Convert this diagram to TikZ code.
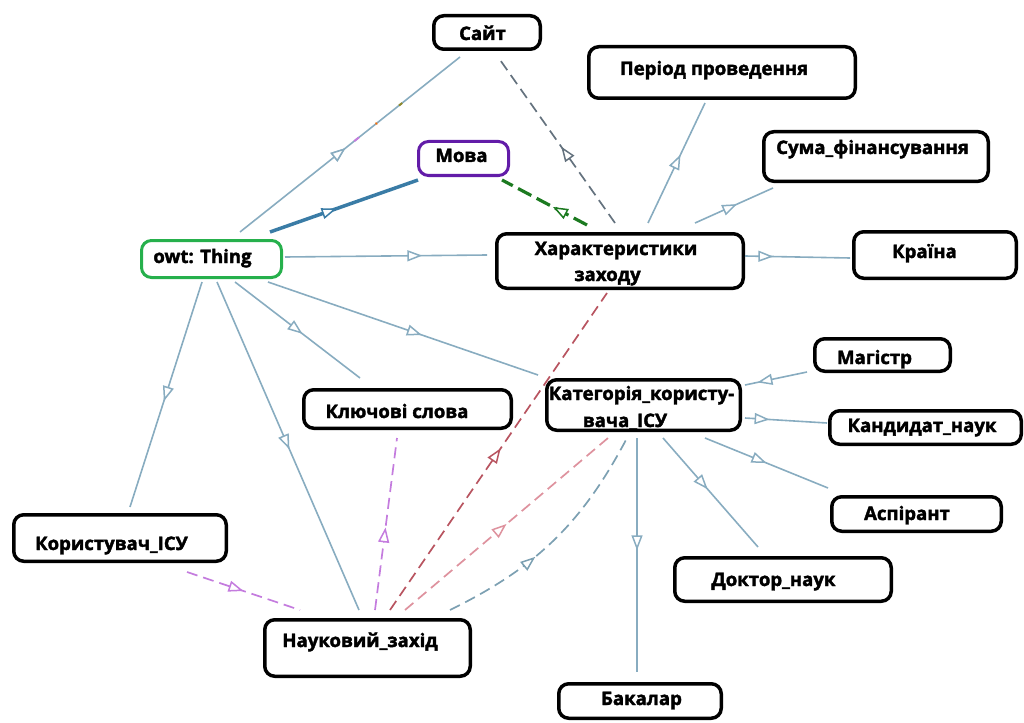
\documentclass[tikz,border=0pt]{standalone}
\usepackage{fontspec}
\usetikzlibrary{arrows.meta,decorations.markings,calc}
\newfontfamily\lblfam{Open Sans}[BoldFeatures={FakeBold=2}]

\definecolor{edgeblue}{RGB}{136,172,192}
\definecolor{mainblue}{RGB}{58,124,166}
\definecolor{dkgreen}{RGB}{28,122,32}
\definecolor{slategrey}{RGB}{100,114,126}
\definecolor{dkred}{RGB}{184,84,96}
\definecolor{rosepink}{RGB}{222,146,158}
\definecolor{greyblue}{RGB}{124,160,178}
\definecolor{lilac}{RGB}{196,124,222}
\definecolor{thingframe}{RGB}{38,176,76}
\definecolor{langframe}{RGB}{98,28,168}

\tikzset{
  cbox/.style={draw=black, line width=3.5pt, rounded corners=10pt, inner sep=0pt},
  lbl/.style={font=\lblfam\bfseries\fontsize{18.6}{22}\selectfont, anchor=base, inner sep=0pt},
  rel/.style={draw=edgeblue, line width=1.6pt},
  dashrel/.style={line width=1.7pt, dash pattern=on 11pt off 6pt},
  midtip/.style={postaction={decorate}, decoration={markings,
      mark=at position #1 with {\arrow{Triangle[length=15pt,width=11pt,fill=white,line width=1.5pt]}}}},
}

\begin{document}
\begin{tikzpicture}[x=1pt, y=-1pt]
\useasboundingbox (0,0) rectangle (1024,722);

% class frames
\node[cbox, minimum width=106.5, minimum height=33.5] (site) at (487,32.5) {};
\node[cbox, minimum width=266.5, minimum height=51.5] (period) at (722,72.5) {};
\node[cbox, draw=langframe, line width=3pt, minimum width=90, minimum height=34] (mova) at (463.5,158.5) {};
\node[cbox, minimum width=224.5, minimum height=49.5] (suma) at (876,156.5) {};
\node[cbox, draw=thingframe, line width=3pt, minimum width=140, minimum height=37] (thing) at (211.5,259) {};
\node[cbox, minimum width=246.5, minimum height=54.5] (char) at (620,261) {};
\node[cbox, minimum width=162.5, minimum height=46.5] (krajina) at (935,255) {};
\node[cbox, minimum width=135.5, minimum height=32.5] (magistr) at (882.5,355) {};
\node[cbox, minimum width=193.5, minimum height=50.5] (cat) at (643.5,405) {};
\node[cbox, minimum width=207.5, minimum height=38.5] (kw) at (407.5,409) {};
\node[cbox, minimum width=191.5, minimum height=33.5] (kandidat) at (925.5,427.5) {};
\node[cbox, minimum width=169.5, minimum height=34.5] (aspirant) at (916.5,514) {};
\node[cbox, minimum width=212.5, minimum height=46.5] (user) at (120,538) {};
\node[cbox, minimum width=216.5, minimum height=43.5] (doctor) at (783,579.5) {};
\node[cbox, minimum width=205.5, minimum height=56.5] (sci) at (367.5,648) {};
\node[cbox, minimum width=162.5, minimum height=34.5] (bakalar) at (640,701) {};

% class names
\node[lbl] (site-t) at (482.5,40) {Сайт};
\node[lbl] (period-t) at (714,75) {Період проведення};
\node[lbl] (mova-t) at (461.5,162) {Мова};
\node[lbl] (suma-t) at (872.5,154) {Сума\_фінансування};
\node[lbl] (thing-t) at (202.5,263) {owt: Thing};
\node[lbl] (char-t1) at (616,255) {Характеристики};
\node[lbl] (char-t2) at (607.5,281) {заходу};
\node[lbl] (krajina-t) at (924.5,258) {Країна};
\node[lbl] (magistr-t) at (874.5,364) {Магістр};
\node[lbl] (cat-t1) at (641.5,400) {Категорія\_користу-};
\node[lbl] (cat-t2) at (625,427) {вача\_ІСУ};
\node[lbl] (kw-t) at (397,418) {Ключові слова};
\node[lbl] (kandidat-t) at (922,432) {Кандидат\_наук};
\node[lbl] (aspirant-t) at (907,520) {Аспірант};
\node[lbl] (user-t) at (111.5,550) {Користувач\_ІСУ};
\node[lbl] (doctor-t) at (773.5,586) {Доктор\_наук};
\node[lbl] (sci-t) at (360,647) {Науковий\_захід};
\node[lbl] (bakalar-t) at (641.5,705) {Бакалар};

% subclass links from owt: Thing
\draw[rel, midtip=0.48,
  postaction={decorate, decoration={markings,
    mark=at position 0.53 with {\draw[lilac, line width=2pt] (-3,0) -- (3,0);},
    mark=at position 0.62 with {\fill[orange!85!red] (0,0) circle (1.4pt);},
    mark=at position 0.73 with {\draw[olive!70!gray, line width=2pt] (-2,0) -- (2,0);}}}]
  ($(thing.center)+(28.5,-27)$) -- ($(site.center)+(-27,24.5)$);
\draw[draw=mainblue, line width=3.5pt, midtip=0.45]
  ($(thing.center)+(58.5,-27)$) -- ($(mova.center)+(-45.5,21.5)$);
\draw[rel, midtip=0.68] ($(thing.center)+(73.5,-2)$) -- ($(char.center)+(-133,-6)$);
\draw[rel, midtip=0.54] ($(thing.center)+(23.5,23)$) -- ($(kw.center)+(-47.5,-31)$);
\draw[rel, midtip=0.57] ($(thing.center)+(56.5,23)$) -- ($(cat.center)+(-105.5,-30)$);
\draw[rel, midtip=0.53] ($(thing.center)+(-9.5,23)$) -- ($(user.center)+(10,-31)$);
\draw[rel, midtip=0.51] ($(thing.center)+(5.5,23)$) -- ($(sci.center)+(-8.5,-38)$);

% properties of the event characteristics
\draw[draw=dkgreen, line width=3.2pt, dash pattern=on 15pt off 6pt, midtip=0.4]
  ($(char.center)+(-33,-36)$) -- ($(mova.center)+(38.5,21.5)$);
\draw[draw=slategrey, dashrel, midtip=0.46]
  ($(char.center)+(-5,-38)$) -- ($(site.center)+(11,24.5)$);
\draw[rel, midtip=0.57] ($(char.center)+(28,-38)$) -- ($(period.center)+(-17,30.5)$);
\draw[rel, midtip=0.54] ($(char.center)+(75,-38)$) -- ($(suma.center)+(-103,31.5)$);
\draw[rel, midtip=0.27] ($(char.center)+(125,-5)$) -- ($(krajina.center)+(-85,3)$);

% user categories
\draw[rel, midtip=0.8] ($(magistr.center)+(-75.5,17)$) -- ($(cat.center)+(101.5,-20)$);
\draw[rel, midtip=0.3] ($(cat.center)+(101.5,13)$) -- ($(kandidat.center)+(-98.5,-4.5)$);
\draw[rel, midtip=0.5] ($(cat.center)+(61.5,33)$) -- ($(aspirant.center)+(-88.5,-26)$);
\draw[rel, midtip=0.47] ($(cat.center)+(19.5,33)$) -- ($(doctor.center)+(-25,-32.5)$);
\draw[rel, midtip=0.48] ($(cat.center)+(-6.5,33)$) -- ($(bakalar.center)+(-3,-29)$);

% properties of the scientific event
\draw[draw=lilac, dashrel, midtip=0.48]
  ($(sci.center)+(7.5,-38)$) -- ($(kw.center)+(-10.5,29)$);
\draw[draw=lilac, dashrel, midtip=0.5]
  ($(user.center)+(67,34)$) -- ($(sci.center)+(-67.5,-38)$);
\draw[draw=dkred, dashrel, midtip=0.51]
  ($(sci.center)+(22.5,-38)$) -- ($(char.center)+(-13,32)$);
\draw[draw=rosepink, dashrel, midtip=0.5]
  ($(sci.center)+(37.5,-38)$) -- ($(cat.center)+(-35.5,33)$);
\draw[draw=greyblue, dashrel, midtip=0.4]
  ($(sci.center)+(82.5,-38)$) to[bend right=18] ($(cat.center)+(-16.5,33)$);
\end{tikzpicture}
\end{document}
